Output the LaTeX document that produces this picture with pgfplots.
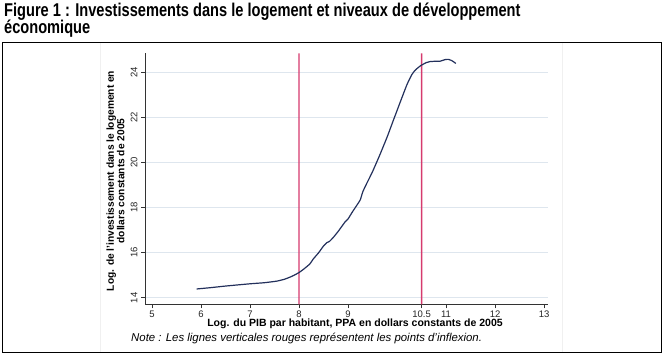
\documentclass[border=0pt]{standalone}
\usepackage{pgfplots}
\pgfplotsset{compat=1.18}
\usepackage{fontspec}
\setmainfont{Liberation Sans}
\definecolor{curvec}{RGB}{35,48,92}
\definecolor{inflred}{RGB}{214,58,110}
\definecolor{gridc}{RGB}{222,230,238}
\begin{document}
\begin{tikzpicture}[x=1bp,y=1bp]
\useasboundingbox (0,0) rectangle (663,353);
\fill[white] (0,0) rectangle (663,353);
\draw[black!6] (100,1) -- (100,311);
\draw[black!6] (562,1) -- (562,311);
\draw[line width=0.9bp] (2,1) rectangle (661,311);
\node[anchor=base west, font=\fontsize{18.5bp}{17.3bp}\selectfont\bfseries, xscale=0.79, transform shape, inner sep=0] at (4,337) {Figure 1 : Investissements dans le logement et niveaux de développement};
\node[anchor=base west, font=\fontsize{18.5bp}{17.3bp}\selectfont\bfseries, xscale=0.79, transform shape, inner sep=0] at (4,319.7) {économique};
\begin{axis}[at={(145bp,48.7bp)}, anchor=south west, scale only axis,
  width=403bp, height=251bp,
  xmin=4.857, xmax=13.08, ymin=13.71, ymax=24.85,
  axis lines=left, axis line style={-, line width=0.9bp, black!80},
  xtick={5,6,7,8,9,10.5,11,12,13},
  xticklabels={5,6,7,8,9,10.5,11,12,13},
  ytick={14,16,18,20,22,24},
  tick align=outside, major tick length=4bp,
  tick style={black!80, line width=0.6bp},
  ymajorgrids, grid style={gridc, line width=0.7bp},
  ticklabel style={font=\fontsize{9.5bp}{11bp}\selectfont, black!85},
  yticklabel style={rotate=90, anchor=south},
  xticklabel style={yshift=1bp},
  /pgf/number format/assume math mode=true,
  clip=false]
% vertical inflexion lines, drawn as thin filled strips
\addplot[fill=inflred, draw=none, mark=none] coordinates {(7.986,13.71) (8.014,13.71) (8.014,24.85) (7.986,24.85) (7.986,13.71)};
\addplot[fill=inflred, draw=none, mark=none] coordinates {(10.486,13.71) (10.514,13.71) (10.514,24.85) (10.486,24.85) (10.486,13.71)};
\addplot[draw=curvec, line width=1.2bp, mark=none, smooth, tension=0.3] coordinates {
(5.91,14.39) (6.2,14.45) (6.5,14.52) (7.0,14.62) (7.3,14.67) (7.55,14.74)
(7.7,14.82) (7.82,14.92) (7.9,15.0) (8.0,15.12) (8.1,15.28) (8.22,15.5)
(8.29,15.72) (8.4,16.0) (8.5,16.3) (8.57,16.45) (8.62,16.5) (8.7,16.68)
(8.8,16.95) (8.94,17.37) (9.0,17.5) (9.08,17.78) (9.18,18.11) (9.25,18.35)
(9.3,18.7) (9.38,19.07) (9.5,19.6) (9.65,20.35) (9.8,21.15) (9.92,21.85)
(10.05,22.6) (10.2,23.45) (10.3,23.9) (10.37,24.1) (10.48,24.3) (10.6,24.44)
(10.67,24.48) (10.8,24.5) (10.88,24.5) (10.98,24.57) (11.05,24.58)
(11.12,24.52) (11.2,24.40)};
\end{axis}
\node[rotate=90, align=center, inner sep=0, font=\fontsize{10.2bp}{8.6bp}\selectfont\bfseries] at (115.5,172) {Log. de l'investissement dans le logement en\\dollars constants de 2005};
\node[inner sep=0, font=\fontsize{10.5bp}{12bp}\selectfont\bfseries] at (355,28.7) {Log. du PIB par habitant, PPA en dollars constants de 2005};
\node[anchor=base west, inner sep=0, font=\fontsize{11.4bp}{13bp}\selectfont\itshape] at (131,11.5) {Note : Les lignes verticales rouges représentent les points d'inflexion.};
\end{tikzpicture}
\end{document}
